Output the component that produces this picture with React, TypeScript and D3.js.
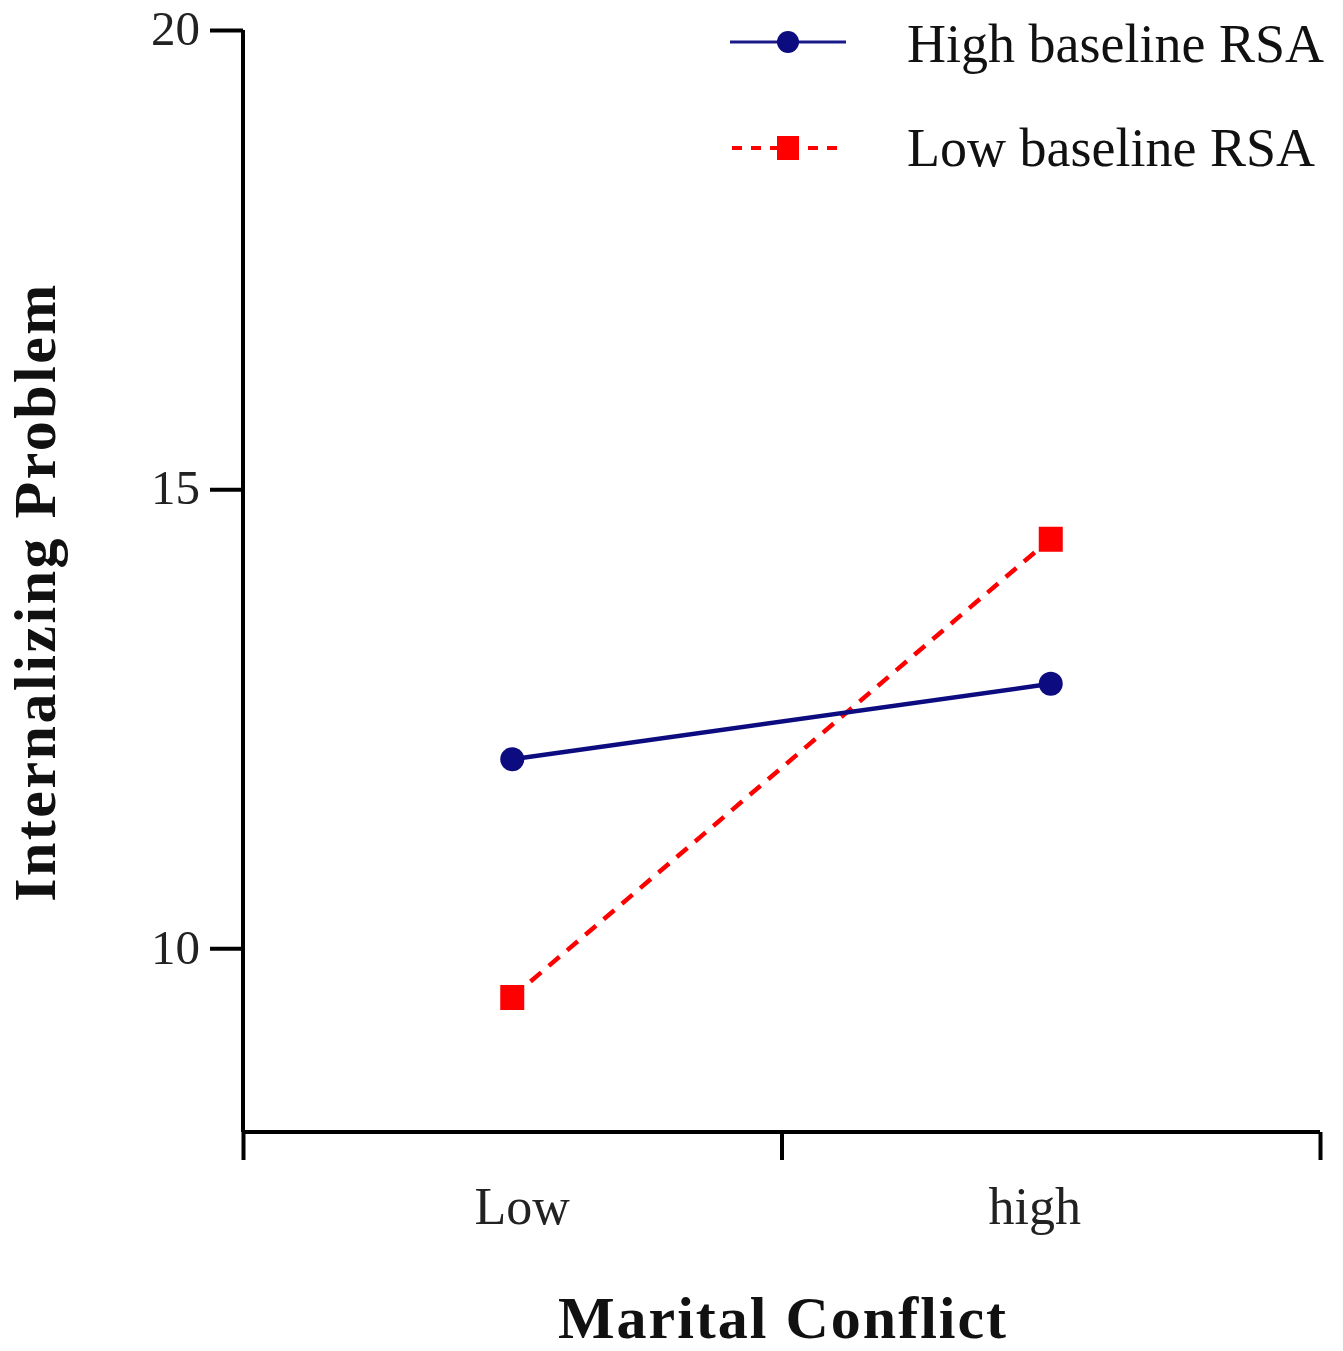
import React, { useEffect, useRef } from 'react';
import * as d3 from 'd3';

// categories on the x axis
const conflictLevels = ['Low', 'high'];
// series values
const highRsa = [12.06, 12.88];
const lowRsa = [9.47, 14.46];
const yTicks = [10, 15, 20];

const W = 1343;
const H = 1351;
const pad = { left: 243, right: 1320, top: 30, bottom: 1132 };
const serif = '"Liberation Serif", "Times New Roman", serif';
const navy = '#0c0c80';
const red = '#ff0000';

export default function App() {
  const ref = useRef<SVGSVGElement>(null);

  useEffect(() => {
    const svg = d3.select(ref.current);
    svg.selectAll('*').remove();

    const x = d3.scalePoint<string>().domain(conflictLevels).range([pad.left, pad.right]).padding(0.5);
    const xEdges = d3.scaleLinear().domain([0, conflictLevels.length]).range([pad.left, pad.right]);
    const y = d3.scaleLinear().domain([8, 20]).range([pad.bottom, pad.top]);

    // y axis
    const gy = svg.append('g').attr('transform', `translate(${pad.left},0)`);
    gy.call(d3.axisLeft(y).tickValues(yTicks).tickSize(33).tickPadding(10).tickFormat(d3.format('d')) as any);
    gy.select('.domain').attr('d', `M0,${pad.top}V${pad.bottom}`);
    gy.selectAll('path,line').attr('stroke', '#000').attr('stroke-width', 4);
    gy.selectAll('text')
      .attr('font-family', serif)
      .attr('font-size', 49)
      .attr('fill', '#222')
      .attr('dy', '0.3em');

    // x axis, ticks at band edges
    const gx = svg.append('g').attr('transform', `translate(0,${pad.bottom})`);
    gx.call(d3.axisBottom(xEdges).tickValues([0, 1, 2]).tickSize(28).tickFormat(() => '') as any);
    gx.select('.domain').attr('d', `M${pad.left},0H${pad.right}`);
    gx.selectAll('path,line').attr('stroke', '#000').attr('stroke-width', 4);

    svg.append('g')
      .selectAll('text')
      .data(conflictLevels)
      .join('text')
      .attr('x', d => x(d)! + (d === 'Low' ? 10 : -16))
      .attr('y', 1224)
      .attr('text-anchor', 'middle')
      .attr('font-family', serif)
      .attr('font-size', 52)
      .attr('fill', '#222')
      .text(d => d);

    // axis titles
    svg.append('text')
      .attr('x', 783)
      .attr('y', 1338)
      .attr('text-anchor', 'middle')
      .attr('font-family', serif)
      .attr('font-weight', 'bold')
      .attr('font-size', 60)
      .attr('letter-spacing', 2)
      .attr('fill', '#111')
      .text('Marital Conflict');

    svg.append('text')
      .attr('transform', `translate(55,592) rotate(-90)`)
      .attr('text-anchor', 'middle')
      .attr('font-family', serif)
      .attr('font-weight', 'bold')
      .attr('font-size', 60)
      .attr('letter-spacing', 2.5)
      .attr('fill', '#111')
      .text('Internalizing Problem');

    const line = d3.line<number>()
      .x((_, i) => x(conflictLevels[i])!)
      .y(d => y(d));

    // low baseline RSA
    svg.append('path')
      .datum(lowRsa)
      .attr('d', line)
      .attr('fill', 'none')
      .attr('stroke', red)
      .attr('stroke-width', 4.5)
      .attr('stroke-dasharray', '14,10');

    // high baseline RSA
    svg.append('path')
      .datum(highRsa)
      .attr('d', line)
      .attr('fill', 'none')
      .attr('stroke', navy)
      .attr('stroke-width', 4.5);

    svg.append('g')
      .selectAll('circle')
      .data(highRsa)
      .join('circle')
      .attr('cx', (_, i) => x(conflictLevels[i])!)
      .attr('cy', d => y(d))
      .attr('r', 12)
      .attr('fill', navy);

    svg.append('g')
      .selectAll('rect')
      .data(lowRsa)
      .join('rect')
      .attr('x', (_, i) => x(conflictLevels[i])! - 12)
      .attr('y', d => y(d) - 12)
      .attr('width', 24)
      .attr('height', 25)
      .attr('fill', red);

    // legend
    const legend = svg.append('g');
    legend.append('line')
      .attr('x1', 730).attr('x2', 846).attr('y1', 42).attr('y2', 42)
      .attr('stroke', '#1a1a8a').attr('stroke-width', 3);
    legend.append('circle')
      .attr('cx', 788).attr('cy', 42).attr('r', 11)
      .attr('fill', navy);
    legend.append('text')
      .attr('x', 907).attr('y', 62)
      .attr('font-family', serif).attr('font-size', 54).attr('fill', '#111')
      .text('High baseline RSA');

    legend.append('line')
      .attr('x1', 732).attr('x2', 846).attr('y1', 148).attr('y2', 148)
      .attr('stroke', red).attr('stroke-width', 4)
      .attr('stroke-dasharray', '10,9');
    legend.append('rect')
      .attr('x', 777).attr('y', 136).attr('width', 22).attr('height', 24)
      .attr('fill', red);
    legend.append('text')
      .attr('x', 907).attr('y', 166)
      .attr('font-family', serif).attr('font-size', 54).attr('fill', '#111')
      .text('Low baseline RSA');
  }, []);

  return (
    <svg
      ref={ref}
      width={W}
      height={H}
      style={{ position: 'absolute', left: 0, top: 0, background: '#fff', display: 'block' }}
    />
  );
}
